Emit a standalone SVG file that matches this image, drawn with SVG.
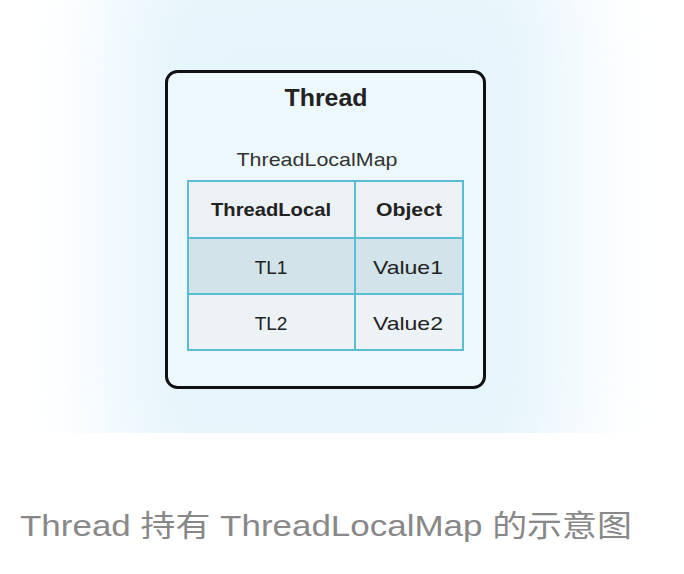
<svg xmlns="http://www.w3.org/2000/svg" width="684" height="574" viewBox="0 0 684 574">
<style>
.cell{stroke:#5bbdd2;stroke-width:2}
.t{font-family:"Liberation Sans","DejaVu Sans",sans-serif;text-anchor:middle;fill:#222}
.b{font-weight:bold;font-size:19px}
.n{font-size:19px}
</style>
<defs>
<filter id="blur" x="-30%" y="-30%" width="160%" height="160%">
<feGaussianBlur stdDeviation="45"/>
</filter>
<clipPath id="clipTop"><rect x="0" y="0" width="684" height="433"/></clipPath>
</defs>
<rect width="684" height="574" fill="#ffffff"/>
<g clip-path="url(#clipTop)">
<rect x="110" y="-60" width="464" height="560" rx="60" fill="#e6f5fc" filter="url(#blur)"/>
</g>
<g id="thread">
<rect x="166.5" y="71.5" width="318" height="316" rx="11" fill="#edf8fd" stroke="#111" stroke-width="3"/>
<text class="t" x="326" y="106" style="font-weight:bold;font-size:23px" textLength="83" lengthAdjust="spacingAndGlyphs">Thread</text>
<text class="t" x="317" y="166" style="font-size:19px;fill:#333" textLength="161" lengthAdjust="spacingAndGlyphs">ThreadLocalMap</text>
</g>
<g id="map">
<rect class="cell" x="188" y="181" width="167" height="57" fill="#ebf1f4"/>
<rect class="cell" x="355" y="181" width="108" height="57" fill="#ebf1f4"/>
<rect class="cell" x="188" y="238" width="167" height="56" fill="#d3e3ea"/>
<rect class="cell" x="355" y="238" width="108" height="56" fill="#d3e3ea"/>
<rect class="cell" x="188" y="294" width="167" height="56" fill="#ecf2f5"/>
<rect class="cell" x="355" y="294" width="108" height="56" fill="#ecf2f5"/>
<text class="t b" x="271" y="216" textLength="120" lengthAdjust="spacingAndGlyphs">ThreadLocal</text>
<text class="t b" x="409" y="216" textLength="66" lengthAdjust="spacingAndGlyphs">Object</text>
<text class="t n" x="271" y="274">TL1</text>
<text class="t n" x="408" y="274" textLength="70" lengthAdjust="spacingAndGlyphs">Value1</text>
<text class="t n" x="271" y="330">TL2</text>
<text class="t n" x="408" y="330" textLength="70" lengthAdjust="spacingAndGlyphs">Value2</text>
</g>
<text x="20" y="536" font-family="'Liberation Sans','Noto Sans CJK SC',sans-serif" font-size="30" fill="#888888" textLength="612" lengthAdjust="spacingAndGlyphs">Thread 持有 ThreadLocalMap 的示意图</text>
</svg>
